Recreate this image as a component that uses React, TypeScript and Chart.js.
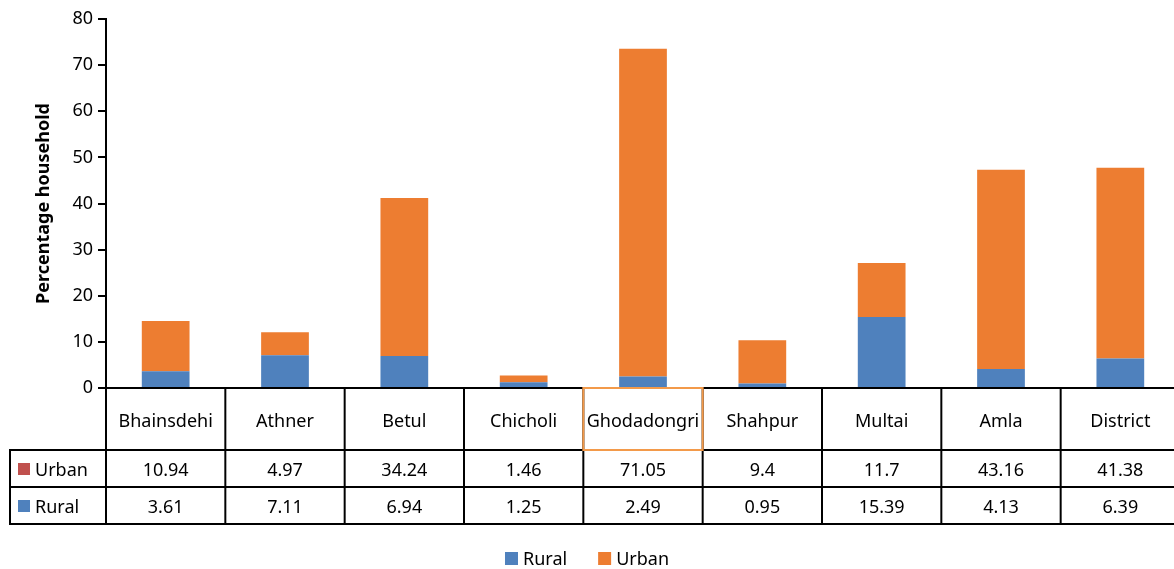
import React, { useEffect, useRef } from 'react';
import { Chart, registerables } from 'chart.js';

Chart.register(...registerables);

const categories = ['Bhainsdehi', 'Athner', 'Betul', 'Chicholi', 'Ghodadongri', 'Shahpur', 'Multai', 'Amla', 'District'];
const urbanValues = [10.94, 4.97, 34.24, 1.46, 71.05, 9.4, 11.7, 43.16, 41.38];
const ruralValues = [3.61, 7.11, 6.94, 1.25, 2.49, 0.95, 15.39, 4.13, 6.39];
const seriesNames = ['Rural', 'Urban'];
const tableRowNames = ['Urban', 'Rural'];
const highlightedCategory = 'Ghodadongri';

const RURAL_COLOR = '#4F81BD';
const URBAN_COLOR = '#ED7D31';
const TABLE_URBAN_KEY = '#C0504D';
const FONT = '"Noto Sans", "DejaVu Sans", sans-serif';
const VISIBLE_W = 1174;
const CANVAS_W = 1180;
const CANVAS_H = 569;

const tablePlugin = {
  id: 'dataTableAndLegend',
  afterDraw(chart: any) {
    const { ctx, chartArea, scales } = chart;
    const xs = scales.x;
    const ys = scales.y;
    const n = categories.length;
    const colW = (chartArea.right - chartArea.left) / n;
    const top = chartArea.bottom;
    const headerBottom = top + 62;
    const row1Bottom = headerBottom + 37;
    const row2Bottom = row1Bottom + 37;
    const tableLeft = 10;
    ctx.save();
    ctx.strokeStyle = '#000';
    ctx.lineWidth = 2;
    const line = (x1: number, y1: number, x2: number, y2: number) => {
      ctx.beginPath();
      ctx.moveTo(x1, y1);
      ctx.lineTo(x2, y2);
      ctx.stroke();
    };
    // y-axis outside tick marks
    ys.ticks.forEach((t: any) => {
      const py = Math.round(ys.getPixelForValue(t.value));
      line(chartArea.left - 8, py, chartArea.left, py);
    });
    line(chartArea.left - 1, top, chartArea.right, top);
    line(tableLeft - 1, headerBottom, chartArea.right, headerBottom);
    line(tableLeft - 1, row1Bottom, chartArea.right, row1Bottom);
    line(tableLeft - 1, row2Bottom, chartArea.right, row2Bottom);
    line(tableLeft, headerBottom, tableLeft, row2Bottom);
    for (let i = 0; i <= n; i++) {
      const bx = chartArea.left + i * colW;
      line(bx, top, bx, row2Bottom);
    }

    ctx.fillStyle = '#000';
    ctx.font = `18px ${FONT}`;
    ctx.textAlign = 'center';
    ctx.textBaseline = 'alphabetic';
    const headerBase = top + 39;
    const row1Base = headerBottom + 26;
    const row2Base = row1Bottom + 26;
    categories.forEach((c, i) => {
      const cx = xs.getPixelForValue(i);
      ctx.fillText(c, cx, headerBase);
      ctx.fillText(String(urbanValues[i]), cx, row1Base);
      ctx.fillText(String(ruralValues[i]), cx, row2Base);
    });

    // row labels with keys
    ctx.textAlign = 'left';
    const keys = [TABLE_URBAN_KEY, RURAL_COLOR];
    const bases = [row1Base, row2Base];
    tableRowNames.forEach((name, i) => {
      ctx.fillStyle = keys[i];
      ctx.fillRect(18, bases[i] - 13, 12, 12);
      ctx.fillStyle = '#000';
      ctx.fillText(name, 35, bases[i]);
    });

    // highlighted header cell
    const hi = categories.indexOf(highlightedCategory);
    if (hi >= 0) {
      const hx = chartArea.left + hi * colW;
      ctx.strokeStyle = '#F39A4A';
      ctx.lineWidth = 2;
      ctx.strokeRect(hx, top, colW, headerBottom - top);
    }

    // legend
    ctx.font = `18px ${FONT}`;
    const box = 13;
    const textGap = 5;
    const itemGap = 31;
    const ds = chart.data.datasets;
    const widths = ds.map((d: any) => box + textGap + ctx.measureText(d.label).width);
    const total = widths.reduce((a: number, b: number) => a + b, 0) + itemGap * (ds.length - 1);
    let lx = VISIBLE_W / 2 - total / 2;
    const lBase = 565;
    ds.forEach((d: any, i: number) => {
      ctx.fillStyle = d.backgroundColor;
      ctx.fillRect(lx, lBase - 13, box, box);
      ctx.fillStyle = '#000';
      ctx.fillText(d.label, lx + box + textGap, lBase);
      lx += widths[i] + itemGap;
    });
    ctx.restore();
  },
};

export default function App() {
  const ref = useRef<HTMLCanvasElement | null>(null);
  useEffect(() => {
    if (!ref.current) return;
    const chart = new Chart(ref.current, {
      type: 'bar',
      data: {
        labels: categories,
        datasets: [
          { label: seriesNames[0], data: ruralValues, backgroundColor: RURAL_COLOR, stack: 's' },
          { label: seriesNames[1], data: urbanValues, backgroundColor: URBAN_COLOR, stack: 's' },
        ],
      },
      options: {
        animation: false,
        responsive: false,
        devicePixelRatio: 1,
        layout: { padding: { top: 19, left: 0, right: 0, bottom: 0 } },
        datasets: { bar: { categoryPercentage: 1, barPercentage: 0.4 } },
        plugins: { legend: { display: false }, tooltip: { enabled: false } },
        scales: {
          x: {
            stacked: true,
            grid: { display: false },
            border: { display: false },
            ticks: { display: false },
            afterFit: (s: any) => { s.height = CANVAS_H - 388; },
          },
          y: {
            stacked: true,
            min: 0,
            max: 80,
            ticks: { stepSize: 10, color: '#000', font: { family: FONT, size: 18 }, padding: 13 },
            grid: { display: false, drawTicks: false, tickLength: 8 },
            border: { display: true, color: '#000', width: 2 },
            title: {
              display: true,
              text: 'Percentage household',
              color: '#000',
              font: { family: FONT, size: 18, weight: 'bold' },
              padding: { top: 33, bottom: 0 },
            },
            afterFit: (s: any) => {
              s.width = 106;
              s.paddingTop = 0;
              s.paddingBottom = 0;
            },
          },
        },
      },
      plugins: [tablePlugin],
    });
    return () => chart.destroy();
  }, []);
  return (
    <div style={{ position: 'absolute', left: 0, top: 0, width: VISIBLE_W, height: CANVAS_H, overflow: 'hidden', background: '#fff' }}>
      <canvas ref={ref} width={CANVAS_W} height={CANVAS_H} style={{ display: 'block', width: CANVAS_W, height: CANVAS_H }} />
    </div>
  );
}
